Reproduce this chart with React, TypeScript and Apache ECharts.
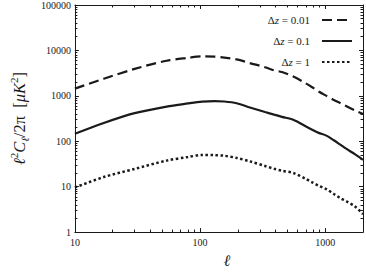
import React, { useEffect, useRef } from "react";
import * as echarts from "echarts";

// multipole values
const ell = [10, 17, 30, 54, 80, 104, 130, 156, 196, 250, 330, 390, 450, 555, 695, 785, 885, 1020, 1170, 1320, 1490, 1720, 2000];
// l^2 C_l / 2pi [muK^2]
const dz001 = [1440, 2380, 3920, 5930, 6850, 7380, 7300, 6950, 6350, 5250, 4270, 3650, 3350, 2650, 1900, 1550, 1250, 1000, 810, 690, 580, 480, 400];
const dz01 = [146, 253, 416, 581, 680, 745, 767, 750, 685, 555, 440, 385, 345, 298, 214, 180, 153, 133, 105, 84, 67, 52, 39];
const dz1 = [9.6, 16.3, 24.6, 37.5, 45, 50, 49.5, 48, 43, 36, 28.5, 24.8, 22.5, 20, 15, 12.5, 10.5, 8.8, 6.9, 5.6, 4.7, 3.7, 2.5];

const seriesNames = ["Δz = 0.01", "Δz = 0.1", "Δz = 1"];
const xMajorTicks = [10, 100, 1000];
const yMajorTicks = [1, 10, 100, 1000, 10000, 100000];

const xMinorTicks: number[] = [];
[10, 100, 1000].forEach((d) => {
  for (let m = 2; m <= 9; m++) if (m * d <= 2000) xMinorTicks.push(m * d);
});
const yMinorTicks: number[] = [];
[1, 10, 100, 1000, 10000].forEach((d) => {
  for (let m = 2; m <= 9; m++) yMinorTicks.push(m * d);
});

const SERIF = "'Liberation Serif', 'DejaVu Serif', serif";
const INK = "#1a1a1a";

export default function App() {
  const ref = useRef<HTMLDivElement>(null);
  useEffect(() => {
    if (!ref.current) return;
    const chart = echarts.init(ref.current, undefined, { renderer: "svg" });

    const xBase = { type: "log", logBase: 10, min: 10, max: 2000, splitLine: { show: false } };
    const yBase = { type: "log", logBase: 10, min: 1, max: 100000, splitLine: { show: false } };
    const line = { show: true, lineStyle: { color: INK, width: 1 } };

    const xAxes = [
      {
        ...xBase,
        position: "bottom",
        axisLine: line,
        axisTick: { show: true, inside: true, length: 4, customValues: xMajorTicks, lineStyle: { color: INK } },
        axisLabel: {
          show: true,
          customValues: xMajorTicks,
          formatter: (v: number) => String(v),
          fontFamily: SERIF,
          fontSize: 10,
          color: INK,
          margin: 5,
        },
        name: "ℓ",
        nameLocation: "middle",
        nameGap: 16,
        nameTextStyle: { fontFamily: "'DejaVu Serif', serif", fontStyle: "italic", fontSize: 16, color: INK, padding: [0, 0, 0, 16] },
      },
      {
        ...xBase,
        position: "bottom",
        axisLine: { show: false },
        axisTick: { show: true, inside: true, length: 2.5, customValues: xMinorTicks, lineStyle: { color: INK } },
        axisLabel: { show: false },
      },
      {
        ...xBase,
        position: "top",
        axisLine: line,
        axisTick: { show: true, inside: true, length: 4, customValues: xMajorTicks, lineStyle: { color: INK } },
        axisLabel: { show: false },
      },
      {
        ...xBase,
        position: "top",
        axisLine: { show: false },
        axisTick: { show: true, inside: true, length: 2.5, customValues: xMinorTicks, lineStyle: { color: INK } },
        axisLabel: { show: false },
      },
    ];

    const yAxes = [
      {
        ...yBase,
        position: "left",
        axisLine: line,
        axisTick: { show: true, inside: true, length: 4, customValues: yMajorTicks, lineStyle: { color: INK } },
        axisLabel: {
          show: true,
          customValues: yMajorTicks,
          formatter: (v: number) => String(v),
          fontFamily: SERIF,
          fontSize: 10,
          color: INK,
          margin: 4,
        },
        name: "{i|ℓ}{sup|2}{i|C}{sub|ℓ}{n|/2π  [}{i|μK}{sup|2}{n|]}",
        nameLocation: "middle",
        nameGap: 37,
        nameTextStyle: {
          color: INK,
          rich: {
            i: { fontFamily: SERIF, fontStyle: "italic", fontSize: 16.5, lineHeight: 22, color: INK },
            n: { fontFamily: SERIF, fontSize: 16.5, lineHeight: 22, color: INK },
            sup: { fontFamily: SERIF, fontSize: 11, lineHeight: 22, verticalAlign: "top", color: INK },
            sub: { fontFamily: SERIF, fontStyle: "italic", fontSize: 11, lineHeight: 22, verticalAlign: "bottom", color: INK },
          },
        },
      },
      {
        ...yBase,
        position: "left",
        axisLine: { show: false },
        axisTick: { show: true, inside: true, length: 2.5, customValues: yMinorTicks, lineStyle: { color: INK } },
        axisLabel: { show: false },
      },
      {
        ...yBase,
        position: "right",
        axisLine: line,
        axisTick: { show: true, inside: true, length: 4, customValues: yMajorTicks, lineStyle: { color: INK } },
        axisLabel: { show: false },
      },
      {
        ...yBase,
        position: "right",
        axisLine: { show: false },
        axisTick: { show: true, inside: true, length: 2.5, customValues: yMinorTicks, lineStyle: { color: INK } },
        axisLabel: { show: false },
      },
    ];

    const mk = (name: string, vals: number[], type: any, width: number) => ({
      name,
      type: "line",
      xAxisIndex: 0,
      yAxisIndex: 0,
      data: ell.map((l, i) => [l, vals[i]]),
      symbol: "none",
      showSymbol: false,
      smooth: 0.3,
      lineStyle: { color: INK, width, type, cap: "butt" },
      itemStyle: { color: INK },
    });

    chart.setOption({
      animation: false,
      backgroundColor: "#ffffff",
      grid: { left: 58, right: 3, top: 5, bottom: 37, containLabel: false },
      legend: {
        orient: "vertical",
        right: 8,
        top: 9,
        align: "right",
        itemWidth: 30,
        itemHeight: 14,
        itemGap: 9,
        itemStyle: { opacity: 0 },
        data: seriesNames,
        formatter: (name: string) => {
          const v = name.split(" = ")[1];
          return "{n|Δ}{i|z}{n| = " + v + "}{g|}";
        },
        textStyle: {
          color: INK,
          rich: {
            n: { fontFamily: SERIF, fontSize: 11, color: INK },
            i: { fontFamily: SERIF, fontStyle: "italic", fontSize: 11, color: INK },
            g: { width: 7 },
          },
        },
      },
      xAxis: xAxes,
      yAxis: yAxes,
      series: [
        mk(seriesNames[0], dz001, [10, 5], 2.2),
        mk(seriesNames[1], dz01, "solid", 2.2),
        mk(seriesNames[2], dz1, [2.5, 2.5], 2.5),
      ],
    });
    return () => chart.dispose();
  }, []);
  return (
    <div
      ref={ref}
      style={{ position: "fixed", left: 0, top: 0, width: 366, height: 273, background: "#fff" }}
    />
  );
}
